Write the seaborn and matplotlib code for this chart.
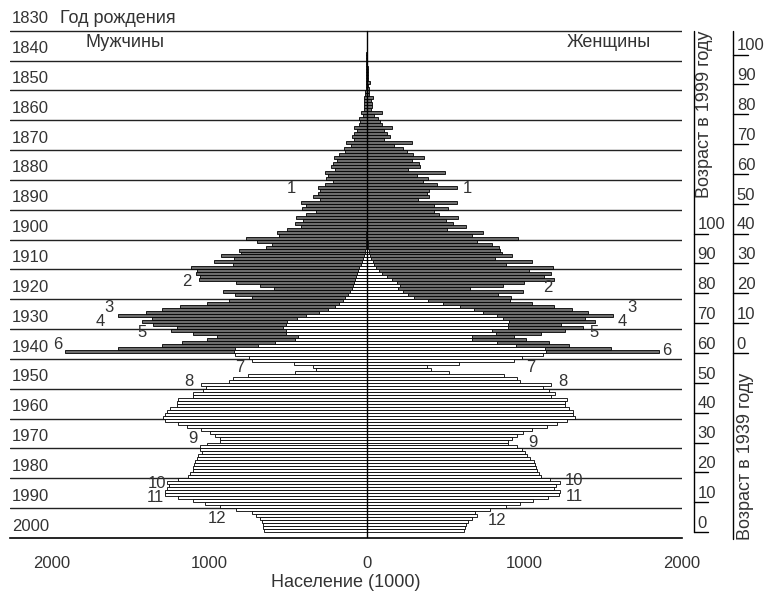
import pandas as pd
import matplotlib
matplotlib.use('Agg')
import matplotlib.pyplot as plt
import seaborn as sns

# Население по году рождения (тыс.), перепись 1939 и 1999
years_1939 = list(range(1839, 1940))
men_1939 = [3, 3, 3, 3, 4, 4, 4, 5, 5, 5,
            6, 6, 7, 8, 11, 17, 17, 17, 15, 15,
            38, 25, 51, 42, 46, 78, 59, 78, 93, 78,
            129, 101, 146, 137, 175, 209, 186, 211, 228, 199,
            264, 243, 256, 211, 262, 311, 296, 307, 338, 296,
            416, 385, 408, 321, 385, 448, 406, 455, 414, 507,
            571, 554, 765, 693, 600, 640, 808, 799, 926, 840,
            968, 850, 1116, 1078, 1082, 1057, 1061, 829, 676, 588,
            909, 835, 730, 871, 1010, 1184, 1296, 1402, 1575, 1364,
            1423, 1357, 1205, 1241, 1099, 947, 1015, 1169, 1300, 1575,
            1911]
women_1939 = [4, 4, 5, 5, 5, 6, 6, 7, 8, 8,
              21, 10, 13, 14, 17, 38, 27, 32, 32, 28,
              95, 49, 74, 85, 95, 159, 112, 127, 148, 110,
              285, 175, 228, 254, 292, 363, 285, 334, 338, 264,
              497, 317, 391, 359, 444, 571, 397, 380, 397, 328,
              571, 427, 518, 427, 461, 577, 501, 550, 630, 507,
              740, 670, 962, 698, 793, 837, 846, 856, 920, 814,
              1046, 882, 1180, 1027, 1169, 1125, 1188, 1000, 867, 655,
              989, 831, 913, 909, 1046, 1188, 1304, 1402, 1564, 1385,
              1448, 1232, 1374, 1258, 1106, 934, 1008, 1158, 1285, 1547,
              1856]

years_1999 = list(range(1899, 2000))
men_1999 = [1, 1, 2, 3, 4, 6, 8, 12, 17, 22,
            30, 38, 46, 55, 63, 70, 76, 82, 88, 95,
            105, 116, 135, 150, 175, 200, 243, 300, 387, 444,
            503, 514, 528, 514, 514, 437, 454, 581, 687, 835,
            839, 835, 744, 729, 461, 342, 321, 452, 755, 846,
            871, 1053, 1019, 1040, 1103, 1099, 1194, 1201, 1205, 1247,
            1268, 1279, 1290, 1279, 1194, 1141, 1051, 994, 960, 930,
            930, 1015, 1057, 1057, 1046, 1068, 1078, 1089, 1095, 1103,
            1103, 1120, 1131, 1194, 1268, 1251, 1268, 1279, 1279, 1194,
            1103, 1025, 930, 829, 729, 702, 676, 666, 660, 655,
            650]
women_1999 = [2, 3, 4, 6, 8, 11, 14, 18, 23, 30,
              38, 45, 60, 80, 100, 130, 160, 190, 210, 200,
              230, 260, 300, 391, 482, 592, 683, 740, 824, 867,
              903, 898, 898, 793, 820, 666, 666, 829, 947, 1131,
              1137, 1116, 983, 937, 588, 380, 408, 524, 873, 955,
              972, 1167, 1116, 1158, 1194, 1167, 1273, 1258, 1258, 1285,
              1306, 1311, 1321, 1273, 1205, 1141, 1046, 994, 951, 920,
              898, 898, 951, 983, 1004, 1015, 1036, 1061, 1068, 1074,
              1082, 1092, 1103, 1163, 1226, 1201, 1188, 1226, 1222, 1152,
              1053, 973, 884, 782, 687, 698, 666, 640, 630, 624,
              620]

decades = list(range(1830, 2010, 10))
ages = list(range(0, 110, 10))
x_ticks = [-2000, -1000, 0, 1000, 2000]
x_ticklabels = ['2000', '1000', '0', '1000', '2000']

# номера-пометки: (текст, x, год)
marks = [('1', -476, 1884.3), ('1', 636, 1884.3),
         ('2', -1141, 1915.7), ('2', 1150, 1917.7),
         ('3', -1634, 1924.1), ('3', 1680, 1924.1),
         ('4', -1691, 1928.8), ('4', 1623, 1928.8),
         ('5', -1427, 1932.8), ('5', 1441, 1932.8),
         ('6', -1957, 1936.5), ('6', 1904, 1938.8),
         ('7', -803, 1944.5), ('7', 1040, 1944.2),
         ('8', -1127, 1949.2), ('8', 1243, 1949.2),
         ('9', -1101, 1968.0), ('9', 1054, 1969.6),
         ('10', -1330, 1983.1), ('10', 1315, 1982.1),
         ('11', -1342, 1987.8), ('11', 1315, 1987.7),
         ('12', -951, 1994.8), ('12', 826, 1995.7)]

sns.set_style('white')
plt.rcParams['font.family'] = ['Liberation Sans', 'DejaVu Sans']
FS = 12      # цифры
FS_T = 13    # надписи
TXT = '#333333'

fig = plt.figure(figsize=(7.67, 5.93), dpi=100)
ax = fig.add_axes([10 / 767, 55 / 593, 672 / 767, 538 / 593])


def draw_bars(years, values, sign, color):
    df = pd.DataFrame({'year': years, 'value': [sign * v for v in values]})
    sns.barplot(data=df, x='value', y='year', orient='y', native_scale=True,
                width=1, color=color, saturation=1, edgecolor='black',
                linewidth=0.6, errorbar=None, ax=ax, zorder=2)


# 1939 - тёмные, 1999 - белые поверх
draw_bars(years_1939, men_1939, -1, '#6c6c6c')
draw_bars(years_1939, women_1939, 1, '#6c6c6c')
draw_bars(years_1999, men_1999, -1, 'white')
draw_bars(years_1999, women_1999, 1, 'white')

Y_TOP, Y_BOT = 1821.22, 2001.5
ax.set_xlim(-2262, 2000)
ax.set_ylim(Y_BOT, Y_TOP)

# линии десятилетий
for d in decades[:-1]:
    ax.axhline(d + 1.5, color='#222222', lw=1.0, zorder=1)
ax.plot([0, 0], [decades[0] + 1.5, Y_BOT], color='black', lw=1.0, zorder=5)

for d in decades:
    ax.text(-2249, d - 2.5, str(d), ha='left', va='center', fontsize=FS,
            color=TXT)
ax.text(-1945, decades[0] - 2.5, 'Год рождения', ha='left', va='center',
        fontsize=FS_T, color=TXT)

ax.text(-1533, 1835.3, 'Мужчины', ha='center', va='center', fontsize=FS_T,
        color=TXT)
ax.text(1533, 1835.3, 'Женщины', ha='center', va='center', fontsize=FS_T,
        color=TXT)

for t, x, y in marks:
    ax.text(x, y, t, ha='center', va='center', fontsize=FS, color=TXT)

# оси возраста справа
tr = ax.get_yaxis_transform()
ax_spec = [(1999, 1.0179, 1.0387, 1999.5), (1939, 1.0766, 1.0982, Y_BOT + 0.5)]
for census, xa, xt, yend in ax_spec:
    ax.plot([xa, xa], [decades[0] + 1.5, yend], transform=tr, color='black',
            lw=1.0, clip_on=False)
    for a in ages:
        yy = census + 0.5 - a
        ax.plot([xa, xt], [yy, yy], transform=tr, color='black', lw=1.0,
                clip_on=False)
        ax.text(xa + 0.005, yy - 0.4, str(a), transform=tr, ha='left',
                va='bottom', fontsize=FS, color=TXT, clip_on=False)

ax.text(1.0342, decades[0] + 1.5, 'Возраст в 1999 году', transform=tr,
        rotation=90, ha='center', va='top', fontsize=FS_T, color=TXT)
ax.text(1.0938, Y_BOT + 0.6, 'Возраст в 1939 году', transform=tr,
        rotation=90, ha='center', va='bottom', fontsize=FS_T, color=TXT)

for s in ['top', 'left', 'right']:
    ax.spines[s].set_visible(False)
ax.spines['bottom'].set_color('black')
ax.spines['bottom'].set_linewidth(1.2)
ax.set_yticks([])
ax.set_xticks(x_ticks)
ax.set_xticklabels(x_ticklabels)
ax.tick_params(axis='x', direction='in', length=9, width=1.2, pad=13,
               labelsize=FS, colors='black', labelcolor=TXT)
ax.set_xlabel('Население (1000)', fontsize=FS_T, labelpad=2, color=TXT)
ax.set_ylabel('')

fig.savefig('out.png', dpi=100)
